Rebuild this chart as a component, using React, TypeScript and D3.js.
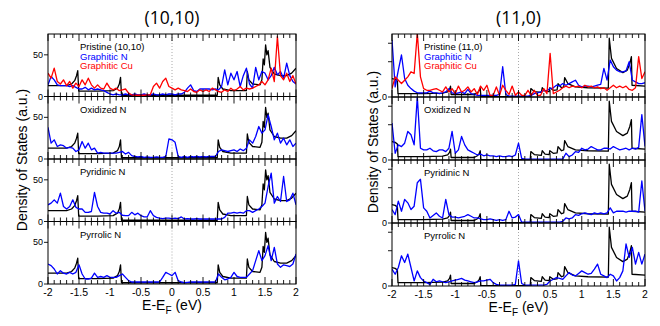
import React from "react";
import * as d3 from "d3";

// DOS sampled every 0.05 eV from -2 to 2 (81 values)
const energyStart = -2;
const energyStep = 0.05;

// pristine reference curves as [E, DOS] pairs
const pristine1010: [number, number][] = [
  [-2, 13], [-1.7, 13], [-1.62, 15], [-1.57, 19], [-1.54, 25], [-1.52, 31], [-1.505, 6.5],
  [-1.2, 6.5], [-0.95, 7], [-0.88, 10], [-0.85, 15], [-0.83, 23], [-0.815, 1.5],
  [0, 1.5], [0.73, 1.5], [0.745, 23], [0.77, 14], [0.82, 9], [0.95, 7], [1.2, 7],
  [1.215, 30], [1.24, 20], [1.3, 15], [1.42, 14], [1.45, 20], [1.47, 45], [1.49, 38],
  [1.51, 62], [1.53, 50], [1.55, 55], [1.58, 35], [1.65, 27], [1.75, 25], [1.85, 25],
  [1.93, 28], [2, 34],
];

const pristine110: [number, number][] = [
  [-2, 22], [-1.95, 21], [-1.915, 19], [-1.905, 4], [-1.5, 4], [-1.2, 4.5], [-1.12, 6],
  [-1.09, 9], [-1.075, 13], [-1.065, 3], [-0.7, 3], [-0.65, 5], [-0.62, 8], [-0.605, 11],
  [-0.595, 0.5], [0.185, 0.5], [0.195, 10], [0.25, 6.5], [0.36, 5.5], [0.375, 11],
  [0.42, 7], [0.485, 6.5], [0.495, 11], [0.55, 8], [0.61, 8.5], [0.625, 16], [0.68, 11],
  [0.715, 12], [0.73, 23], [0.78, 16], [0.9, 12], [1.1, 11], [1.42, 10.5], [1.435, 70],
  [1.47, 46], [1.55, 34], [1.65, 29], [1.72, 32], [1.76, 40], [1.785, 48], [1.795, 14],
  [2, 13],
];

// (10,10)
const graphiticNLeft = [
  14, 24, 20, 14, 13, 13, 13, 12, 13, 11,
  9, 9, 11, 8, 10, 8, 9, 8, 7, 5,
  3, 2, 3, 2, 2, 3, 2, 2, 3, 2,
  2, 3, 2, 2, 3, 2, 2, 3, 2, 3,
  3, 2, 3, 3, 5, 10, 14, 7, 6, 9,
  9, 9, 9, 8, 9, 8, 12, 32, 14, 28,
  20, 30, 12, 25, 34, 15, 10, 35, 20, 30,
  28, 20, 25, 35, 26, 30, 22, 40, 25, 18,
  15,
];
const graphiticCuLeft = [
  28, 22, 34, 18, 15, 20, 13, 18, 10, 16,
  12, 20, 14, 22, 14, 10, 14, 10, 9, 16,
  10, 8, 10, 7, 8, 9, 4, 2, 1.5, 1.5,
  1.5, 1.5, 2, 2, 12, 16, 10, 18, 22, 12,
  10, 8, 10, 8, 7, 6, 9, 6, 5, 8,
  6, 8, 6, 10, 8, 6, 5, 8, 6, 10,
  7, 9, 12, 8, 10, 9, 10, 12, 14, 18,
  14, 20, 34, 18, 72, 25, 20, 28, 18, 25,
  15,
];
const oxidizedLeft = [
  38, 19, 23, 15, 17, 16, 13, 14, 13, 9,
  11, 21, 13, 19, 11, 13, 7, 8, 7, 7,
  7, 7, 7, 8, 9, 6, 8, 4, 3, 2.5,
  3, 2, 2.5, 2, 2, 2.5, 2, 2, 3, 24,
  23, 20, 3, 2, 3, 2, 3, 2.5, 3, 2.5,
  3, 2.5, 3, 3, 3, 9, 11, 10, 9, 10,
  11, 9, 12, 10, 13, 23, 19, 27, 39, 31,
  35, 53, 39, 23, 31, 19, 25, 17, 23, 15,
  19,
];
const pyridinicLeft = [
  20, 22, 26, 22, 34, 18, 15, 18, 26, 17,
  15, 15, 11, 11, 12, 35, 18, 11, 10, 10,
  9, 13, 10, 11, 7.5, 7, 7, 11, 8, 10,
  7, 5.5, 5.5, 13, 7, 5, 4, 3.5, 4, 4,
  3.5, 4, 3.5, 5.5, 3, 3.5, 3, 3, 3.5, 3,
  3, 3, 3, 3, 3, 3, 3, 5, 10, 10,
  11, 10, 11, 10, 13, 13, 11, 13, 15, 18,
  22, 42, 58, 22, 30, 24, 54, 24, 26, 34,
  20,
];
const pyrrolicLeft = [
  24, 22, 18, 12, 16, 13, 12, 14, 12, 14,
  23, 12, 6, 6, 7, 13, 8, 9, 8, 10,
  8, 8, 8, 10, 12, 8, 4, 2.4, 2.4, 2.4,
  2.4, 2.4, 2.4, 2.4, 2.4, 2.4, 2.4, 8, 14, 12,
  10, 14, 4, 2.4, 1.5, 2, 2.4, 2.4, 2.4, 2.4,
  2.4, 2.4, 2.4, 2.4, 2.4, 12, 8, 5, 6, 8,
  14, 9, 8, 8, 8, 12, 16, 28, 40, 28,
  34, 46, 28, 44, 24, 20, 23, 22, 21, 24,
  36,
];

// (11,0)
const graphiticNRight = [
  68, 12, 32, 50, 22, 14, 10, 7, 5, 5,
  5, 5, 7, 5, 5, 4, 5, 6, 10, 5,
  4, 5, 6, 4, 9, 4, 3, 2, 2, 2,
  2, 2, 2, 2, 3, 36, 3, 1, 1, 1,
  1, 1, 1, 1, 2, 4, 5, 6, 7.5, 8,
  10, 11, 14, 13, 16, 14, 16, 18, 20, 14,
  12, 13, 13, 12, 13, 14, 15, 34, 20, 44,
  36, 32, 30, 30, 31, 42, 20, 18, 16, 16,
  17,
];
const graphiticCuRight = [
  10, 24, 20, 16, 20, 24, 30, 28, 76, 24,
  10, 8, 8, 9, 10, 8, 6, 12, 6, 10,
  4, 13, 6, 8, 12, 6, 10, 3, 13, 8,
  14, 2, 2, 12, 2, 14, 8, 3, 13, 2,
  6, 2, 2, 8, 2, 8, 2, 2, 10, 4,
  52, 4, 6, 8, 11, 13, 11, 13, 12, 13,
  11, 14, 12, 13, 11, 12, 10, 11, 8, 11,
  14, 11, 13, 11, 13, 9, 8, 11, 48, 22,
  30,
];
const oxidizedRight = [
  44, 8, 18, 16, 20, 34, 30, 18, 75, 14,
  12, 12, 14, 11, 10, 12, 12, 10, 14, 34,
  8, 12, 28, 18, 12, 10, 8, 6, 7, 5,
  6, 5, 5, 4, 5, 4, 4, 5, 4, 6,
  20, 2, 1, 1, 1, 1, 1, 1, 1, 1,
  1, 1, 1, 1, 1, 8, 4, 6, 10, 9,
  14, 12, 13, 16, 14, 12, 12, 14, 14, 13,
  16, 14, 12, 13, 14, 12, 14, 13, 15, 54,
  16,
];
const pyridinicRight = [
  16, 10, 26, 14, 28, 24, 16, 20, 48, 52,
  18, 14, 6, 9, 12, 8, 6, 28, 10, 7,
  7, 6, 7, 8, 10, 8, 6, 6, 5, 4,
  4, 5, 4, 3, 4, 3, 4, 14, 6, 7,
  10, 1, 1, 1, 1, 1, 1, 1, 1, 1,
  1, 1, 1, 1, 2, 6, 5, 6, 10, 9,
  11, 12, 11, 10, 12, 11, 12, 11, 12, 18,
  12, 14, 14, 14, 13, 14, 14, 14, 13, 50,
  14,
];
const pyrrolicRight = [
  20, 14, 22, 36, 28, 38, 22, 6, 18, 10,
  6, 4, 2, 8, 5, 6, 5, 4, 5, 6,
  7, 8, 9, 7, 6, 5, 4, 5, 6, 6,
  7, 8, 4, 2, 1, 1, 1, 1, 1, 2,
  30, 3, 1, 1, 1, 1, 1, 1, 1, 2,
  6, 8, 10, 9, 8, 12, 16, 13, 12, 15,
  18, 16, 14, 15, 20, 26, 14, 12, 10, 14,
  12, 6, 10, 18, 50, 34, 46, 26, 40, 26,
  38,
];

const xTickLabels = ["-2", "-1.5", "-1", "-0.5", "0", "0.5", "1", "1.5", "2"];
const panelNames = ["", "Oxidized N", "Pyridinic N", "Pyrrolic N"];

const FONT = "'Liberation Sans', Arial, sans-serif";
const BLUE = "#0000ff";
const RED = "#ff0000";

const toPoints = (vals: number[]): [number, number][] =>
  vals.map((v, i) => [energyStart + i * energyStep, v]);

type SideProps = {
  id: string;
  x0: number;
  x1: number;
  top: number;
  bottom: number;
  title: string;
  pristine: [number, number][];
  pristineName: string;
  blues: number[][];
  red: number[];
  yTicks: number[];
  yTickLabels: string[];
  yLabelX: number;
  yLabelY: number;
};

function Side(p: SideProps) {
  const x = d3.scaleLinear().domain([-2, 2]).range([p.x0, p.x1]);
  const ph = (p.bottom - p.top) / 4;
  const cx = (p.x0 + p.x1) / 2;
  const minor = x.ticks(40);

  return (
    <g>
      <text x={cx} y={24} textAnchor="middle" fontFamily="'Open Sans', sans-serif" fontSize={17.5}>
        {p.title}
      </text>
      {p.blues.map((blue, i) => {
        const pt = p.top + i * ph;
        const pb = pt + ph;
        const y = d3.scaleLinear().domain([0, 75]).range([pb, pt]);
        const line = d3.line<[number, number]>().x(d => x(d[0])).y(d => y(d[1]));
        const clipId = `${p.id}-clip-${i}`;
        return (
          <g key={i}>
            <defs>
              <clipPath id={clipId}>
                <rect x={p.x0} y={pt} width={p.x1 - p.x0} height={ph} />
              </clipPath>
            </defs>
            <line x1={x(0)} x2={x(0)} y1={pt} y2={pb} stroke="#aaa" strokeDasharray="1,2" strokeWidth={1} />
            <g clipPath={`url(#${clipId})`} fill="none" strokeWidth={1.3} strokeLinejoin="round">
              <path d={line(p.pristine) || ""} stroke="#000" />
              <path d={line(toPoints(blue)) || ""} stroke={BLUE} />
              {i === 0 && <path d={line(toPoints(p.red)) || ""} stroke={RED} />}
            </g>
            {/* ticks on both edges, pointing in */}
            {minor.map((t, k) => {
              const major = Math.abs(t * 2 - Math.round(t * 2)) < 1e-6;
              const len = major ? 7 : 4;
              return (
                <g key={k} stroke="#000" strokeWidth={0.9}>
                  <line x1={x(t)} x2={x(t)} y1={pb} y2={pb - len} />
                  <line x1={x(t)} x2={x(t)} y1={pt} y2={pt + len} />
                </g>
              );
            })}
            {p.yTicks.map((t, k) => (
              <g key={k}>
                <line x1={p.x0 - 4} x2={p.x0} y1={y(t)} y2={y(t)} stroke="#000" strokeWidth={0.9} />
                {p.yTickLabels[k] && (
                  <text x={p.x0 - 5} y={y(t) + 3} textAnchor="end" fontFamily={FONT} fontSize={9}>
                    {p.yTickLabels[k]}
                  </text>
                )}
              </g>
            ))}
            <rect x={p.x0} y={pt} width={p.x1 - p.x0} height={ph} fill="none" stroke="#000" strokeWidth={1} />
            {i === 0 ? (
              <g fontFamily={FONT} fontSize={9.5}>
                <text x={p.x0 + 32} y={pt + 16}>{p.pristineName}</text>
                <text x={p.x0 + 32} y={pt + 25.5} fill={BLUE}>Graphitic N</text>
                <text x={p.x0 + 32} y={pt + 35} fill={RED}>Graphitic Cu</text>
              </g>
            ) : (
              <text x={p.x0 + 32} y={pt + 16} fontFamily={FONT} fontSize={9.5}>
                {panelNames[i]}
              </text>
            )}
          </g>
        );
      })}
      {xTickLabels.map((l, k) => (
        <text key={k} x={x(+l)} y={p.bottom + 12} textAnchor="middle" fontFamily={FONT} fontSize={10.5}>
          {l}
        </text>
      ))}
      <text x={cx} y={p.bottom + 26} textAnchor="middle" fontFamily={FONT} fontSize={14}>
        E-E<tspan fontSize={10} dy={4}>F</tspan>
        <tspan dy={-4}> (eV)</tspan>
      </text>
      <text
        transform={`translate(${p.yLabelX},${p.yLabelY}) rotate(-90)`}
        textAnchor="middle"
        fontFamily={FONT}
        fontSize={14}
      >
        Density of States (a.u.)
      </text>
    </g>
  );
}

export default function App() {
  return (
    <svg width={660} height={326} style={{ position: "absolute", left: 0, top: 0, background: "#fff" }}>
      <rect width={660} height={326} fill="#fff" />
      <Side
        id="l"
        x0={48}
        x1={296}
        top={34}
        bottom={284}
        title="(10,10)"
        pristine={pristine1010}
        pristineName="Pristine (10,10)"
        blues={[graphiticNLeft, oxidizedLeft, pyridinicLeft, pyrrolicLeft]}
        red={graphiticCuLeft}
        yTicks={[0, 50]}
        yTickLabels={["0", "50"]}
        yLabelX={27}
        yLabelY={160}
      />
      <Side
        id="r"
        x0={392}
        x1={645}
        top={34}
        bottom={286}
        title="(11,0)"
        pristine={pristine110}
        pristineName="Pristine (11,0)"
        blues={[graphiticNRight, oxidizedRight, pyridinicRight, pyrrolicRight]}
        red={graphiticCuRight}
        yTicks={[0, 42, 64]}
        yTickLabels={["0", "", ""]}
        yLabelX={378}
        yLabelY={142}
      />
    </svg>
  );
}
